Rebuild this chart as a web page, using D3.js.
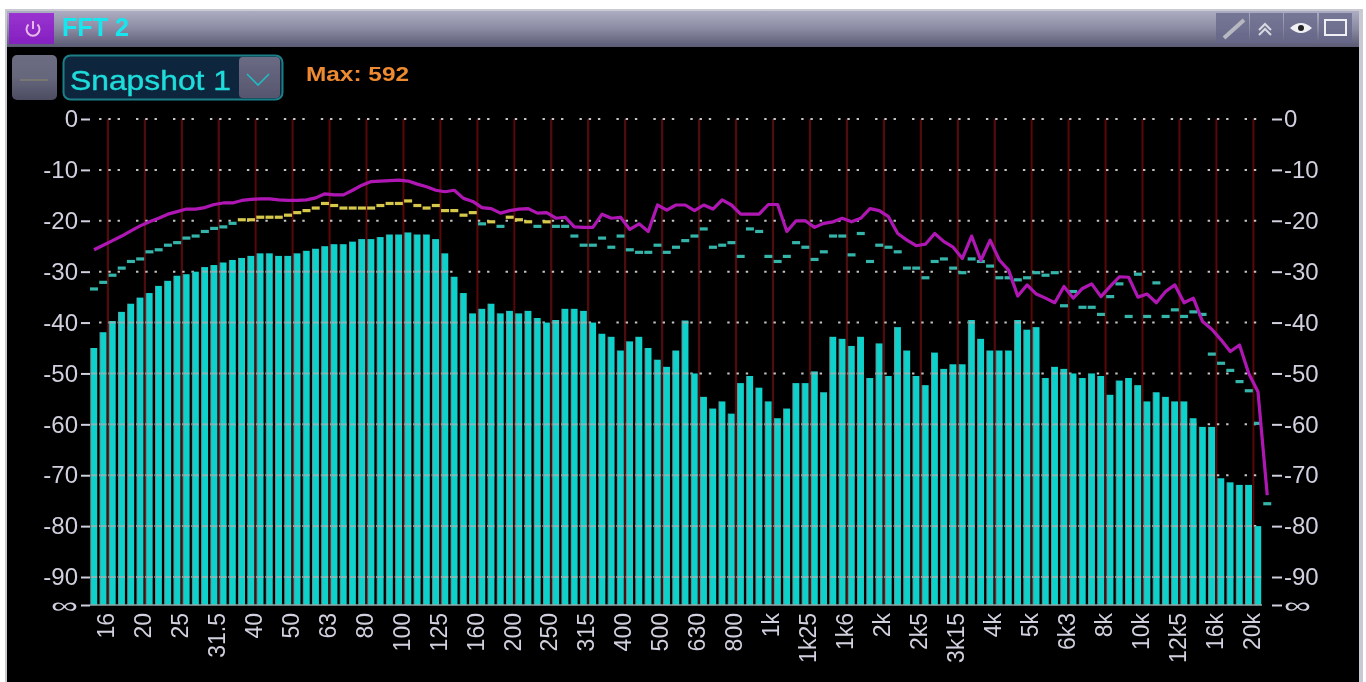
<!DOCTYPE html>
<html><head><meta charset="utf-8">
<script src="https://cdnjs.cloudflare.com/ajax/libs/d3/7.8.5/d3.min.js"></script>
<style>
html,body{margin:0;padding:0;background:#fff;overflow:hidden}
svg{display:block}
text{font-family:"Liberation Sans",Arial,sans-serif}
</style></head><body>
<svg id="c" width="1366" height="682"></svg>
<script>
const bandLabels=["16","20","25","31.5","40","50","63","80","100","125","160","200","250","315","400","500","630","800","1k","1k25","1k6","2k","2k5","3k15","4k","5k","6k3","8k","10k","12k5","16k","20k"];
const dbTicks=[0,-10,-20,-30,-40,-50,-60,-70,-80,-90];
const floorDb=-95.5;
const barValues=[-45,-41.9,-39.7,-37.9,-36.3,-35.1,-34.2,-32.8,-31.8,-30.8,-30.5,-30,-29.1,-28.7,-28.2,-27.7,-27.3,-26.9,-26.4,-26.4,-26.9,-26.9,-26.4,-25.9,-25.5,-25,-24.6,-24.6,-24.1,-23.6,-23.6,-23.2,-22.7,-22.7,-22.3,-22.7,-22.7,-23.6,-26.4,-31,-34.2,-38.2,
-37.3,-36.3,-38.2,-37.7,-38.2,-37.7,-39.1,-40,-39.5,-37.3,-37.3,-37.7,-40,-42.2,-42.8,-45.5,-43.7,-42.8,-45,-47.3,-48.7,-45.5,-39.6,-50,-54.6,-56.9,-55.5,-57.9,-51.9,-50.5,-52.8,-55.5,-58.8,-56.9,-51.9,-51.9,-49.6,-53.7,-42.8,-43.2,-44.6,-42.8,-50.9,-44.1,
-50.5,-40.9,-45.5,-50.5,-52.3,-45.9,-49.1,-48.2,-48.2,-39.5,-43.2,-45.5,-45.5,-45.5,-39.5,-41.4,-40.9,-50.9,-48.7,-49.1,-50,-50.9,-50,-50.5,-54.2,-51.4,-50.9,-52.3,-55.5,-53.7,-54.6,-55.5,-55.5,-58.8,-60.5,-60.5,
-70.6,-71.4,-71.9,-71.9,-80];
const snapshotLine=[-25.7,-24.8,-23.9,-23,-22,-21,-20.2,-19.5,-18.7,-18.2,-17.7,-17.7,-17.4,-16.8,-16.5,-16.5,-16,-15.8,-15.7,-15.7,-15.9,-16,-16,-15.9,-15.5,-14.7,-14.9,-14.9,-14,-13,-12.3,-12.2,-12.1,-12,-12.2,-12.8,-13.3,-14,-14.3,-14,-15.6,-16.2,
-17.4,-17.6,-18.5,-18,-17.7,-17.6,-18.5,-18.4,-19.5,-19.3,-21.2,-21.3,-21.3,-18.7,-19.5,-19.3,-21.7,-20.6,-22.1,-16.9,-17.9,-16.9,-16.9,-18,-16.9,-17.7,-15.9,-16.9,-18.7,-18.7,-18.7,-16.8,-16.8,-22.1,-20,-20,-21.3,-20.5,-20.2,-19.5,-20.2,-19.5,-17.6,-18,
-19.2,-22.5,-23.8,-24.9,-24.6,-22.5,-24.1,-25.2,-27.4,-23,-27.8,-23.8,-27.7,-29.7,-34.8,-32.6,-34.4,-35.2,-36.1,-32.9,-35.2,-33.3,-32.4,-34.9,-32.9,-31,-31.1,-35,-34.4,-36.1,-33.9,-32.6,-36.1,-35.2,-39.8,-41.3,-43.4,-45.7,-44.4,-50,-53.6,-73.9];
const peakValues=[-33.4,-32.1,-30.7,-29.3,-28,-27.5,-26.1,-25.7,-24.8,-24.3,-23.4,-23,-22.1,-21.5,-21.2,-20.5,-19.8,-19.8,-19.3,-19.3,-19.3,-18.9,-18.4,-18,-17.5,-16.6,-17,-17.5,-17.5,-17.5,-17.5,-17,-16.6,-16.6,-16.1,-17,-17.5,-17,-18,-18,-18.9,-18.4,
-20.6,-20.2,-21.1,-19.3,-19.8,-20.2,-21.1,-20.2,-21.1,-21.1,
-23,-24.8,-24.8,-23.4,-25.2,-23,-25.7,-26.2,-26.2,-24.8,-26.2,-25.2,-23.9,-23,-21.6,-25.2,-24.8,-24.3,-27,-21.6,-22.1,-27,-28,-27,-24.3,-25.2,-27.6,-26.1,-23,-23,-26.7,-22.5,-28,-24.8,
-25.2,-26.1,-29.3,-29.3,-31.2,-28,-27.5,-29.3,-30.2,-27.5,-28,-28.9,-31.2,-31.2,-31.6,-31.2,-30.2,-30.7,-30.2,-36.7,-33.9,-37,-37,-38.4,-34.9,-32.4,-38.8,-30.5,-38.8,-32.2,-38.8,-37.5,-38.8,-37.9,-38.4,-46.2,-48,-49.4,-51.6,-53.4,-59.8,-75.6];
const hotThreshold=-20.4;
const title="FFT 2", snapshot="Snapshot 1", maxLabel="Max: 592";

const svg=d3.select("#c");
const defs=svg.append("defs");
const grad=(id,stops)=>{const g=defs.append("linearGradient").attr("id",id).attr("x1",0).attr("x2",0).attr("y1",0).attr("y2",1);
 stops.forEach((s,i)=>g.append("stop").attr("offset",i/(stops.length-1)).attr("stop-color",s));};
grad("tb",["#acacc2","#8a8aa2","#5a5a74"]);
grad("btn",["#6a6a84","#56566e"]);
grad("sq",["#6c6c82","#66667c","#4c4c62"]);
grad("pw",["#9a34d0","#8420c0"]);
defs.append("filter").attr("id","soft").attr("x",0).attr("y",0).attr("width",1).attr("height",1)
 .append("feGaussianBlur").attr("stdDeviation",0.75);
const root=svg.append("g").attr("filter","url(#soft)");

// panel
root.append("rect").attr("x",5).attr("y",9).attr("width",1358).attr("height",673).attr("fill","#c9c9d2");
root.append("rect").attr("x",7).attr("y",47).attr("width",1352).attr("height",635).attr("fill","#000");
root.append("rect").attr("x",7).attr("y",11).attr("width",1352).attr("height",36).attr("fill","url(#tb)");
root.append("rect").attr("x",9).attr("y",13).attr("width",45).attr("height",31).attr("fill","url(#pw)");
root.append("path").attr("d","M28.5 24.5a6.5 6.5 0 1 0 9 0M33 21v8").attr("fill","none").attr("stroke","#e8b8e8").attr("stroke-width",2);
root.append("text").attr("x",62).attr("y",36).attr("font-size",25).attr("font-weight","bold").attr("fill","#17e6ee").attr("textLength",67).attr("lengthAdjust","spacingAndGlyphs").text(title);

// title-bar buttons
[1216,1250,1284,1319].forEach(x=>root.append("rect").attr("x",x).attr("y",13).attr("width",33).attr("height",30).attr("fill","#66668a").attr("opacity",.75));
root.append("path").attr("d","M1224 38L1244 20").attr("stroke","#b8b8c0").attr("stroke-width",4);
root.append("path").attr("d","M1259 30l6-6 6 6M1259 35l6-6 6 6").attr("fill","none").attr("stroke","#d8d8e0").attr("stroke-width",2);
root.append("path").attr("d","M1290 28q11-10 22 0q-11 10-22 0z").attr("fill","#f0f0f4");
root.append("circle").attr("cx",1301).attr("cy",28).attr("r",3).attr("fill","#222");
root.append("rect").attr("x",1325).attr("y",20).attr("width",21).attr("height",15).attr("fill","none").attr("stroke","#f0f0f4").attr("stroke-width",2);

// snapshot controls
root.append("rect").attr("x",12).attr("y",55).attr("width",45).attr("height",45).attr("rx",5).attr("fill","url(#sq)");
root.append("path").attr("d","M20 80h28").attr("stroke","#7f7f70").attr("stroke-width",1.5);
root.append("rect").attr("x",63.5).attr("y",55.5).attr("width",219).attr("height",44).attr("rx",7).attr("fill","#10283c").attr("stroke","#1c7f88").attr("stroke-width",2);
root.append("rect").attr("x",239).attr("y",57).attr("width",41).attr("height",41).attr("rx",4).attr("fill","url(#btn)");
root.append("path").attr("d","M247 74l11 11 11-11").attr("fill","none").attr("stroke","#20b8c4").attr("stroke-width",1.6);
root.append("text").attr("x",70).attr("y",90).attr("font-size",28).attr("fill","#1fdcdc").attr("stroke","#1fdcdc").attr("stroke-width",.4).attr("font-family","'DejaVu Sans',sans-serif").attr("textLength",161).attr("lengthAdjust","spacingAndGlyphs").text(snapshot);
root.append("text").attr("x",306).attr("y",81).attr("font-size",21).attr("font-weight","bold").attr("fill","#ee8a30").attr("font-family","'DejaVu Sans',sans-serif").attr("textLength",103).attr("lengthAdjust","spacingAndGlyphs").text(maxLabel);

// scales
const x=d3.scaleLinear().domain([0,126]).range([94,1258]);
const y=d3.scaleLinear().domain([0,floorDb]).range([119,605]);
const barW=6.4;
const plot=root.append("g");

// vertical band lines
plot.selectAll("line.band").data(bandLabels).join("line").attr("class","band")
 .attr("x1",(d,i)=>x(1.5+4*i)).attr("x2",(d,i)=>x(1.5+4*i)).attr("y1",y(0)).attr("y2",y(floorDb))
 .attr("stroke","#4c0808").attr("stroke-width",2.4);

// dotted horizontal grid
const step=x(1)-x(0);
plot.selectAll("line.grid").data(dbTicks).join("line").attr("class","grid")
 .attr("x1",x(0)+step*0.55).attr("x2",x(126)).attr("y1",d=>y(d)).attr("y2",d=>y(d))
 .attr("stroke","#c4c4c4").attr("stroke-width",2)
 .attr("stroke-dasharray",`2.4 ${step-2.4} 2.4 ${step-2.4} 2.4 ${step*2-2.4}`);

// bars
plot.selectAll("rect.bar").data(barValues).join("rect").attr("class","bar")
 .attr("x",(d,i)=>x(i)-barW/2).attr("width",barW)
 .attr("y",d=>y(d)).attr("height",d=>y(floorDb)-y(d)).attr("fill","#10d2cc");

// grid seen over the bars
const overlay=[];
barValues.forEach((v,i)=>dbTicks.forEach(t=>{if(t<v)overlay.push({i,t});}));
plot.selectAll("line.over").data(overlay).join("line").attr("class","over")
 .attr("x1",d=>x(d.i)-barW/2).attr("x2",d=>x(d.i)+barW/2).attr("y1",d=>y(d.t)).attr("y2",d=>y(d.t))
 .attr("stroke","#7fb8b8").attr("stroke-width",2);
// slim grey edges + baseline
plot.selectAll("line.edge").data(barValues).join("line").attr("class","edge")
 .attr("x1",(d,i)=>x(i)-barW/2).attr("x2",(d,i)=>x(i)-barW/2).attr("y1",d=>y(d)).attr("y2",y(floorDb))
 .attr("stroke","#6f8f90").attr("stroke-width",1);
plot.append("line").attr("x1",x(0)-4).attr("x2",x(126)+4).attr("y1",y(floorDb)).attr("y2",y(floorDb)).attr("stroke","#8fa8a8").attr("stroke-width",1.5);

// peak-hold dashes
plot.selectAll("rect.peak").data(peakValues).join("rect").attr("class","peak")
 .attr("x",(d,i)=>x(i)-4).attr("y",d=>y(d)-1.6).attr("width",8).attr("height",3.2)
 .attr("fill",d=>d>hotThreshold?"#d6c84c":"#35b4aa");

// snapshot line
plot.append("path").datum(snapshotLine)
 .attr("d",d3.line().x((d,i)=>x(i)).y(d=>y(d)))
 .attr("fill","none").attr("stroke","#b018b4").attr("stroke-width",3.2).attr("stroke-linejoin","round");

// axes
const tickCol="#d0d0de";
function styleY(g,anchor){
 g.select(".domain").remove();
 g.selectAll("line").attr("stroke",tickCol).attr("stroke-width",2);
 g.selectAll("text").attr("fill",tickCol).attr("font-size",24).attr("text-anchor",anchor).attr("font-family","'Liberation Sans',sans-serif");
 g.selectAll(".tick").filter(d=>d===floorDb).select("text").attr("font-size",22).attr("font-family","'DejaVu Sans',sans-serif").attr("dy","0.36em").attr("textLength",27).attr("lengthAdjust","spacingAndGlyphs");
}
const yVals=dbTicks.concat([floorDb]);
const fmtY=d=>d===floorDb?"\u221E":String(d);
root.append("g").attr("transform","translate(90,0)")
 .call(d3.axisLeft(y).tickValues(yVals).tickFormat(fmtY).tickSize(9).tickPadding(3)).call(styleY,"end");
root.append("g").attr("transform","translate(1272,0)")
 .call(d3.axisRight(y).tickValues(yVals).tickFormat(fmtY).tickSize(10).tickPadding(2)).call(styleY,"start");

const xAxis=d3.axisBottom(x).tickValues(bandLabels.map((d,i)=>1.25+4*i)).tickFormat((d,i)=>bandLabels[i]).tickSize(0);
const xg=root.append("g").attr("transform",`translate(0,${y(floorDb)})`).call(xAxis);
xg.select(".domain").remove();
xg.selectAll("text").attr("fill",tickCol).attr("font-size",23).attr("font-family","'Liberation Sans',sans-serif")
 .attr("text-anchor","end").attr("dy",0).attr("y",0)
 .attr("transform","translate(8,8) rotate(-90)");
</script>
</body></html>
